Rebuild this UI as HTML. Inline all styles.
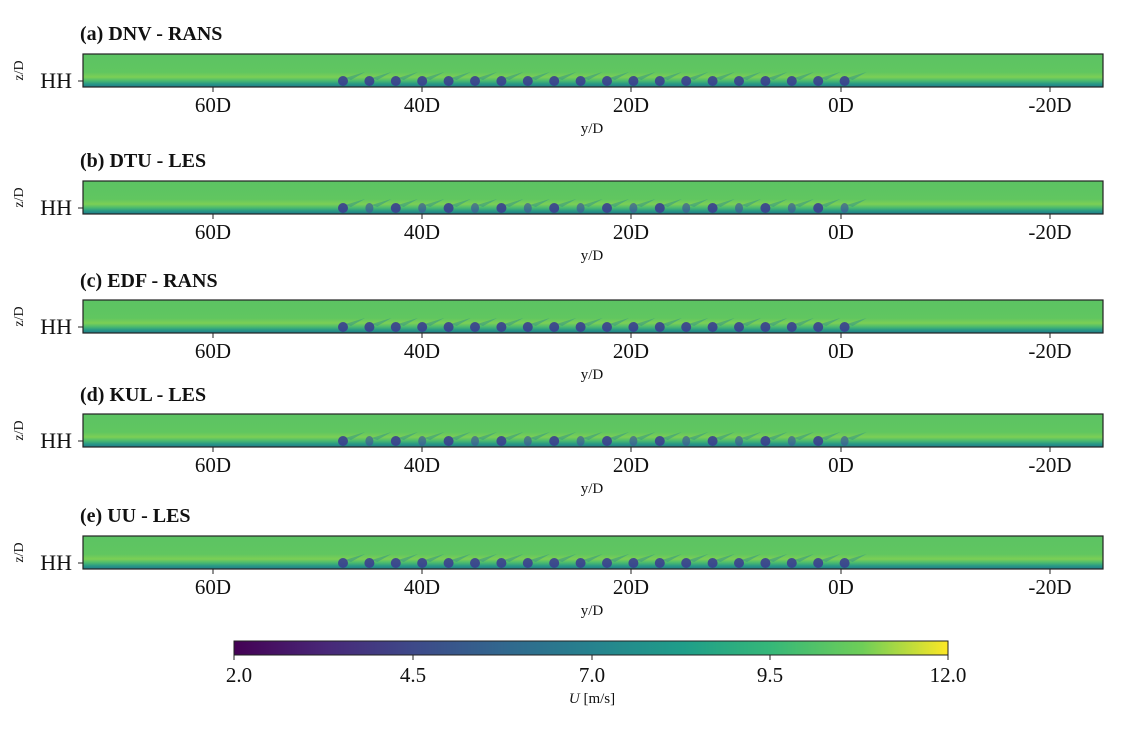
<!DOCTYPE html>
<html><head><meta charset="utf-8"><style>
body{margin:0;background:#fff;}
svg text{font-family:"Liberation Serif","DejaVu Serif",serif;fill:#111;}
</style></head><body>
<svg id="s" width="1126" height="726" xmlns="http://www.w3.org/2000/svg">
<defs>
<linearGradient id="bg" x1="0" y1="0" x2="0" y2="1">
<stop offset="0" stop-color="#5cc363"/>
<stop offset="0.55" stop-color="#60c660"/>
<stop offset="0.7" stop-color="#7ccf55"/>
<stop offset="0.8" stop-color="#4fbd6c"/>
<stop offset="0.9" stop-color="#2a9b84"/>
<stop offset="1" stop-color="#1f7a8c"/>
</linearGradient>
<linearGradient id="vir" x1="0" y1="0" x2="1" y2="0">
<stop offset="0" stop-color="#440154"/>
<stop offset="0.13" stop-color="#482878"/>
<stop offset="0.25" stop-color="#3e4989"/>
<stop offset="0.38" stop-color="#31688e"/>
<stop offset="0.5" stop-color="#26828e"/>
<stop offset="0.63" stop-color="#1f9e89"/>
<stop offset="0.75" stop-color="#35b779"/>
<stop offset="0.88" stop-color="#6ece58"/>
<stop offset="1" stop-color="#fde725"/>
</linearGradient>
</defs>
<g id="g"></g>
<rect x="234" y="641" width="714" height="14" fill="url(#vir)" stroke="#222" stroke-width="1"/>
<g font-size="21" text-anchor="middle">
<text x="239" y="682">2.0</text><text x="413" y="682">4.5</text><text x="592" y="682">7.0</text><text x="770" y="682">9.5</text><text x="948" y="682">12.0</text>
</g>
<g stroke="#222"><line x1="234" y1="655" x2="234" y2="660"/><line x1="413" y1="655" x2="413" y2="660"/><line x1="592" y1="655" x2="592" y2="660"/><line x1="770" y1="655" x2="770" y2="660"/><line x1="948" y1="655" x2="948" y2="660"/></g>
<text x="592" y="703" font-size="15" text-anchor="middle"><tspan font-style="italic">U</tspan> [m/s]</text>
</svg>
<script>
var tops=[54,181,300,414,536],titles=["(a) DNV - RANS","(b) DTU - LES","(c) EDF - RANS","(d) KUL - LES","(e) UU - LES"],tt=[40,167,287,401,522];
var h='';var ticks=[[213,"60D"],[422,"40D"],[631,"20D"],[841,"0D"],[1050,"-20D"]];
for(var p=0;p<5;p++){var y=tops[p],H=33;
h+='<text x="80" y="'+tt[p]+'" font-size="20" font-weight="bold">'+titles[p]+'</text>';
h+='<rect x="83" y="'+y+'" width="1020" height="'+H+'" fill="url(#bg)"/>';
for(var i=0;i<20;i++){var cx=343+i*26.4,cy=y+H-6;var dark=(p==1||p==3)?(i%2==0):true;
h+='<path d="M'+(cx+2)+' '+(cy-3)+' L'+(cx+22)+' '+(cy-9)+' L'+(cx+8)+' '+(cy-1)+'Z" fill="#2d8f8a" opacity="0.5"/>';
h+='<ellipse cx="'+cx+'" cy="'+cy+'" rx="'+(dark?5:4)+'" ry="5" fill="'+(dark?'#3b3f8f':'#3e5a95')+'" opacity="'+(dark?0.9:0.7)+'"/>';}
h+='<rect x="83" y="'+y+'" width="1020" height="'+H+'" fill="none" stroke="#222" stroke-width="1.2"/>';
h+='<line x1="78" y1="'+(y+H-6)+'" x2="83" y2="'+(y+H-6)+'" stroke="#222"/>';
h+='<text x="72" y="'+(y+H+1)+'" font-size="22" text-anchor="end">HH</text>';
h+='<text transform="translate(23,'+(y+H/2)+') rotate(-90)" font-size="14" text-anchor="middle">z/D</text>';
for(var k=0;k<5;k++){h+='<line x1="'+ticks[k][0]+'" y1="'+(y+H)+'" x2="'+ticks[k][0]+'" y2="'+(y+H+5)+'" stroke="#222"/>';
h+='<text x="'+ticks[k][0]+'" y="'+(y+H+25)+'" font-size="21" text-anchor="middle">'+ticks[k][1]+'</text>';}
h+='<text x="592" y="'+(y+H+46)+'" font-size="15" text-anchor="middle">y/D</text>';}
document.getElementById('g').innerHTML=h;
</script>
</body></html>
